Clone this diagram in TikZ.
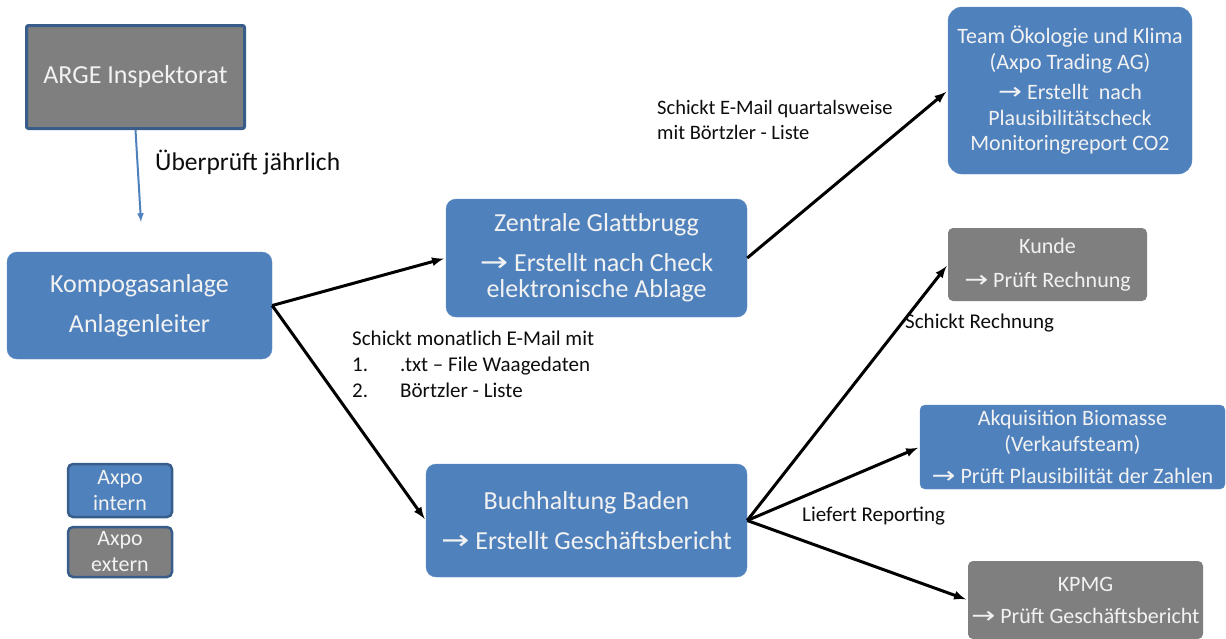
\documentclass[tikz,border=0pt]{standalone}
\usepackage{fontspec}
\setmainfont{Carlito}
\newfontfamily\pfeilfont{DejaVu Sans}
\newcommand{\pfr}{\scalebox{1.3}[1.05]{\pfeilfont\char"2192}\ }
\usetikzlibrary{arrows}
\definecolor{axblau}{HTML}{4F81BD}
\definecolor{axgrau}{HTML}{7F7F7F}
\definecolor{axrand}{HTML}{385D8A}
\definecolor{axtext}{HTML}{F2F2F2}

\begin{document}
\begin{tikzpicture}[x=1pt, y=-1pt,
  blaubox/.style = {fill=axblau, draw=axblau!90!white, rounded corners=10pt,
                    text=axtext, align=center, inner sep=0pt},
  graubox/.style = {fill=axgrau, rounded corners=5pt,
                    text=axtext, align=center, inner sep=0pt},
  legende/.style = {draw=axrand, line width=2.5pt, rounded corners=5pt,
                    text=axtext, align=center, inner sep=0pt,
                    minimum width=104pt, font=\fontsize{22}{26}\selectfont},
  pfeil/.style   = {black, line width=3pt, -latex, shorten >=2pt},
  beschr/.style  = {anchor=west, align=left, inner sep=0pt, text=black!95}]
\useasboundingbox (0,0) rectangle (1226,638);

% Kaesten
\node[fill=axgrau, draw=axrand, line width=3pt, rounded corners=2pt, text=axtext,
      minimum width=218pt, minimum height=103pt, inner sep=0pt,
      font=\fontsize{26}{30}\selectfont] (arge) at (135.5,77) {ARGE Inspektorat};
\node[blaubox, minimum width=265pt, minimum height=107pt,
      font=\fontsize{26}{40}\selectfont] (kompo) at (139.5,305.5)
      {Kompogasanlage\\Anlagenleiter};
\node[blaubox, minimum width=301pt, minimum height=118pt,
      font=\fontsize{26}{26}\selectfont] (zentrale) at (596.5,258)
      {Zentrale Glattbrugg\\[14pt]\pfr Erstellt nach Check\\elektronische Ablage};
\node[blaubox, minimum width=321pt, minimum height=113pt,
      font=\fontsize{26}{40}\selectfont] (buchh) at (586.5,520.5)
      {Buchhaltung Baden\\\pfr Erstellt Geschäftsbericht};
\node[blaubox, rounded corners=14pt, minimum width=244pt, minimum height=167pt,
      font=\fontsize{22}{25.5}\selectfont] (team) at (1070,90.5)
      {Team Ökologie und Klima\\(Axpo Trading AG)\\[5pt]\pfr Erstellt\ \ nach\\Plausibilitätscheck\\Monitoringreport CO2};
\node[graubox, minimum width=199pt, minimum height=73pt,
      font=\fontsize{22}{34}\selectfont] (kunde) at (1047.5,264.5)
      {Kunde\\\pfr Prüft Rechnung};
\node[blaubox, rounded corners=5pt, minimum width=305pt, minimum height=84pt,
      font=\fontsize{22}{26}\selectfont] (akqui) at (1072.5,447)
      {Akquisition Biomasse\\(Verkaufsteam)\\[6pt]\pfr Prüft Plausibilität der Zahlen};
\node[graubox, minimum width=235pt, minimum height=78pt,
      font=\fontsize{22}{32}\selectfont] (kpmg) at (1085.5,600)
      {KPMG\\\pfr Prüft Geschäftsbericht};

% Legende
\node[legende, fill=axblau, minimum height=53pt] (intern) at (120,490.5) {Axpo\\intern};
\node[legende, fill=axgrau, minimum height=50pt] (extern) at (120,552) {Axpo\\extern};

% Pfeile
\coordinate (pruefend) at (141,222);
\draw[axblau, line width=2pt, -latex] (arge.south) -- (pruefend);
\draw[pfeil] (kompo.east) -- (zentrale.west);
\draw[pfeil] (kompo.east) -- (buchh.west);
\draw[pfeil] (zentrale.east) -- (team.west);
\draw[pfeil] (buchh.east) -- (kunde.west);
\draw[pfeil] (buchh.east) -- (akqui.west);
\draw[pfeil] (buchh.east) -- (kpmg.west);

% Beschriftungen
\node[beschr, font=\fontsize{25.5}{28}\selectfont] (lbjahr) at (155,162) {Überprüft jährlich};
\node[beschr, font=\fontsize{21}{26}\selectfont] (lbmonat) at (352,364)
  {Schickt monatlich E-Mail mit\\\makebox[48pt][l]{1.}.txt -- File Waagedaten\\\makebox[48pt][l]{2.}Börtzler - Liste};
\node[beschr, font=\fontsize{20.5}{25}\selectfont] (lbquartal) at (657,119.5)
  {Schickt E-Mail quartalsweise\\mit Börtzler - Liste};
\node[beschr, font=\fontsize{21}{24}\selectfont] (lbrechn) at (905,323) {Schickt Rechnung};
\node[beschr, font=\fontsize{21}{24}\selectfont] (lbreport) at (802,516) {Liefert Reporting};
\end{tikzpicture}
\end{document}
